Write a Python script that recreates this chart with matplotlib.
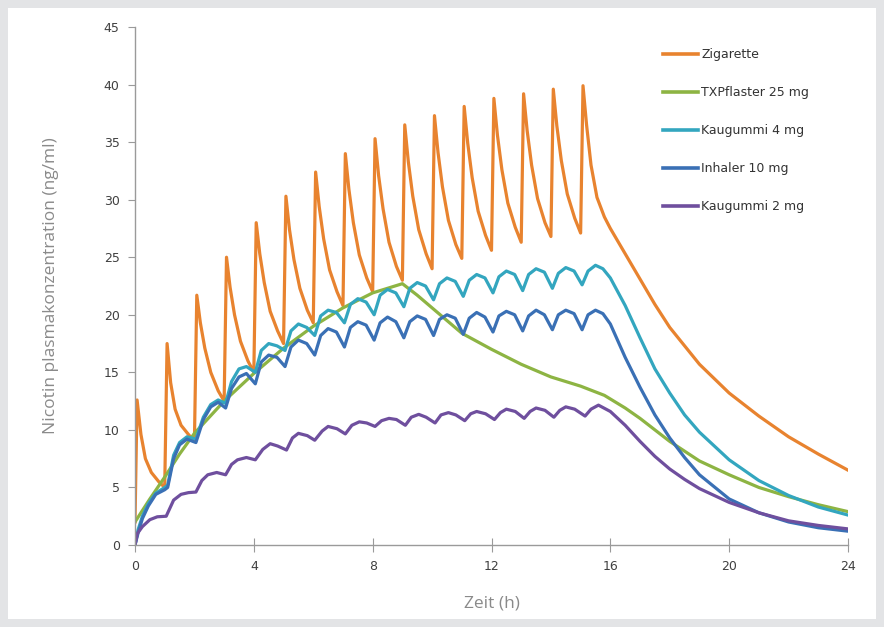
import numpy as np
import matplotlib.pyplot as plt
from matplotlib.patches import Rectangle

# Nikotin-Plasmaspiegel ueber 24 h

# Zigarette: pro Stunde Tal, Spitze und Abfall
zig_t = [0.0, 0.07, 0.2, 0.35, 0.55, 0.8,
         1.0, 1.08, 1.2, 1.35, 1.55, 1.8,
         2.0, 2.08, 2.2, 2.35, 2.55, 2.8,
         3.0, 3.08, 3.2, 3.35, 3.55, 3.8,
         4.0, 4.08, 4.2, 4.35, 4.55, 4.8,
         5.0, 5.08, 5.2, 5.35, 5.55, 5.8,
         6.0, 6.08, 6.2, 6.35, 6.55, 6.8,
         7.0, 7.08, 7.2, 7.35, 7.55, 7.8,
         8.0, 8.08, 8.2, 8.35, 8.55, 8.8,
         9.0, 9.08, 9.2, 9.35, 9.55, 9.8,
         10.0, 10.08, 10.2, 10.35, 10.55, 10.8,
         11.0, 11.08, 11.2, 11.35, 11.55, 11.8,
         12.0, 12.08, 12.2, 12.35, 12.55, 12.8,
         13.0, 13.08, 13.2, 13.35, 13.55, 13.8,
         14.0, 14.08, 14.2, 14.35, 14.55, 14.8,
         15.0, 15.08, 15.2, 15.35, 15.55, 15.8,
         16.0, 16.5, 17.0, 17.5, 18.0, 19.0, 20.0, 21.0, 22.0, 23.0, 24.0]
zig_v = [2.0, 12.6, 9.6, 7.5, 6.3, 5.5,
         5.0, 17.5, 14.1, 11.8, 10.4, 9.6,
         9.0, 21.7, 19.3, 17.1, 15.0, 13.4,
         12.5, 25.0, 22.4, 20.0, 17.7, 16.0,
         15.0, 28.0, 25.3, 22.8, 20.3, 18.6,
         17.5, 30.3, 27.4, 24.8, 22.3, 20.4,
         19.3, 32.4, 29.4, 26.6, 23.9, 22.0,
         20.8, 34.0, 30.9, 28.0, 25.2, 23.2,
         22.0, 35.3, 32.1, 29.2, 26.3, 24.2,
         23.0, 36.5, 33.3, 30.3, 27.4, 25.3,
         24.0, 37.3, 34.1, 31.1, 28.2, 26.1,
         24.9, 38.1, 34.9, 31.9, 29.0, 26.9,
         25.6, 38.8, 35.6, 32.6, 29.7, 27.6,
         26.3, 39.2, 36.0, 33.0, 30.1, 28.0,
         26.8, 39.6, 36.4, 33.4, 30.5, 28.4,
         27.1, 39.9, 36.5, 33.0, 30.2, 28.5,
         27.5, 25.3, 23.1, 20.9, 18.9, 15.7, 13.2, 11.2, 9.4, 7.9, 6.5]

# TX Pflaster 25 mg
tx_t = [0, 0.5, 1, 1.5, 2, 3, 4, 5, 6, 7, 8, 9, 9.5, 10, 11, 12, 13, 14, 15,
        15.8, 16.5, 17, 18, 19, 20, 21, 22, 23, 24]
tx_v = [2.0, 4.0, 5.9, 7.9, 9.7, 12.5, 14.9, 17.1, 19.0, 20.6, 21.9, 22.7, 21.7,
        20.6, 18.4, 17.0, 15.7, 14.6, 13.8, 13.0, 11.9, 11.0, 9.0, 7.3, 6.1,
        5.0, 4.2, 3.5, 2.9]

# Kaugummi 4 mg
kg4_t = [0, 0.1, 0.25, 0.45, 0.7, 1.0, 1.1, 1.3, 1.5, 1.75, 2.05, 2.3, 2.55, 2.8,
         3.05, 3.25, 3.5, 3.75,
         4.05, 4.25, 4.5, 4.78, 5.05, 5.25, 5.5, 5.78, 6.05, 6.25, 6.5, 6.78,
         7.05, 7.25, 7.5, 7.78, 8.05, 8.25, 8.5, 8.78, 9.05, 9.25, 9.5, 9.78,
         10.05, 10.25, 10.5, 10.78, 11.05, 11.25, 11.5, 11.78, 12.05, 12.25, 12.5, 12.78,
         13.05, 13.25, 13.5, 13.78, 14.05, 14.25, 14.5, 14.78, 15.05, 15.25, 15.5, 15.75,
         16.0, 16.5, 17.0, 17.5, 18.0, 18.5, 19.0, 20.0, 21.0, 22.0, 23.0, 24.0]
kg4_v = [0, 1.3, 2.5, 3.6, 4.5, 5.0, 5.2, 7.8, 8.9, 9.4, 9.2, 11.1, 12.2, 12.6,
         12.3, 14.2, 15.3, 15.5,
         15.0, 16.9, 17.5, 17.3, 16.9, 18.6, 19.2, 18.9, 18.2, 19.9, 20.4, 20.2,
         19.3, 20.9, 21.4, 21.1, 20.0, 21.7, 22.2, 21.9, 20.7, 22.3, 22.8, 22.5,
         21.3, 22.7, 23.2, 22.9, 21.6, 23.0, 23.5, 23.2, 21.9, 23.3, 23.8, 23.5,
         22.1, 23.5, 24.0, 23.7, 22.3, 23.6, 24.1, 23.8, 22.6, 23.8, 24.3, 24.0,
         23.2, 20.8, 18.0, 15.3, 13.2, 11.3, 9.8, 7.4, 5.6, 4.3, 3.3, 2.6]

# Inhaler 10 mg
inh_t = [0, 0.1, 0.25, 0.45, 0.7, 1.0, 1.1, 1.3, 1.5, 1.75, 2.05, 2.3, 2.55, 2.8,
         3.05, 3.25, 3.5, 3.75,
         4.05, 4.25, 4.5, 4.78, 5.05, 5.25, 5.5, 5.78, 6.05, 6.25, 6.5, 6.78,
         7.05, 7.25, 7.5, 7.78, 8.05, 8.25, 8.5, 8.78, 9.05, 9.25, 9.5, 9.78,
         10.05, 10.25, 10.5, 10.78, 11.05, 11.25, 11.5, 11.78, 12.05, 12.25, 12.5, 12.78,
         13.05, 13.25, 13.5, 13.78, 14.05, 14.25, 14.5, 14.78, 15.05, 15.25, 15.5, 15.75,
         16.0, 16.5, 17.0, 17.5, 18.0, 18.5, 19.0, 20.0, 21.0, 22.0, 23.0, 24.0]
inh_v = [0, 1.0, 2.3, 3.4, 4.4, 4.8, 5.0, 7.5, 8.7, 9.2, 8.9, 10.9, 12.0, 12.4,
         11.9, 13.6, 14.6, 14.9,
         14.0, 15.9, 16.5, 16.3, 15.5, 17.2, 17.8, 17.5, 16.5, 18.2, 18.8, 18.5,
         17.2, 18.9, 19.4, 19.1, 17.8, 19.3, 19.8, 19.4, 18.0, 19.4, 19.9, 19.6,
         18.2, 19.6, 20.0, 19.7, 18.3, 19.7, 20.2, 19.8, 18.5, 19.9, 20.3, 20.0,
         18.6, 19.9, 20.4, 20.0, 18.7, 20.0, 20.4, 20.1, 18.7, 20.0, 20.4, 20.1,
         19.2, 16.3, 13.7, 11.3, 9.3, 7.6, 6.1, 4.0, 2.8, 2.0, 1.5, 1.2]

# Kaugummi 2 mg
kg2_t = [0, 0.08, 0.25, 0.5, 0.75, 1.05, 1.3, 1.55, 1.8, 2.05, 2.25, 2.45, 2.75,
         3.05, 3.25, 3.45, 3.75, 4.05,
         4.3, 4.55, 4.8, 5.1, 5.3, 5.5, 5.8, 6.05, 6.3, 6.5, 6.8, 7.08,
         7.3, 7.55, 7.8, 8.08, 8.3, 8.55, 8.8, 9.1, 9.3, 9.55, 9.8, 10.1,
         10.3, 10.55, 10.8, 11.1, 11.3, 11.5, 11.8, 12.1, 12.3, 12.5, 12.8, 13.1,
         13.3, 13.5, 13.8, 14.1, 14.3, 14.5, 14.8, 15.15, 15.35, 15.6,
         16.0, 16.5, 17.0, 17.5, 18.0, 18.5, 19.0, 20.0, 21.0, 22.0, 23.0, 24.0]
kg2_v = [0, 1.0, 1.6, 2.2, 2.45, 2.5, 3.9, 4.4, 4.55, 4.6, 5.6, 6.1, 6.3,
         6.1, 7.0, 7.4, 7.6, 7.4,
         8.3, 8.8, 8.6, 8.25, 9.3, 9.7, 9.5, 9.1, 9.9, 10.3, 10.1, 9.65,
         10.4, 10.7, 10.6, 10.3, 10.8, 11.0, 10.9, 10.4, 11.1, 11.35, 11.1, 10.6,
         11.3, 11.5, 11.3, 10.8, 11.4, 11.6, 11.4, 10.9, 11.5, 11.8, 11.6, 11.0,
         11.6, 11.9, 11.7, 11.1, 11.7, 12.0, 11.8, 11.2, 11.8, 12.15,
         11.6, 10.4, 9.0, 7.7, 6.6, 5.7, 4.9, 3.7, 2.8, 2.1, 1.7, 1.4]

series = [
    ('Zigarette', zig_t, zig_v, '#E8832F'),
    ('TXPflaster 25 mg', tx_t, tx_v, '#8DB443'),
    ('Kaugummi 4 mg', kg4_t, kg4_v, '#33A6BF'),
    ('Inhaler 10 mg', inh_t, inh_v, '#3A70B5'),
    ('Kaugummi 2 mg', kg2_t, kg2_v, '#6F4F9E'),
]

fig = plt.figure(figsize=(8.84, 6.27), dpi=100)
fig.patch.set_facecolor('#E3E4E6')
# weisses Feld innerhalb des grauen Rahmens (hinter den Achsen)
fig.add_artist(Rectangle((8 / 884, 8 / 627), 868 / 884, 611 / 627,
                         transform=fig.transFigure, facecolor='white',
                         edgecolor='none', zorder=-5))

ax = fig.add_axes([135 / 884, 82 / 627, 713 / 884, 518 / 627])
ax.set_facecolor('none')

for name, t, v, col in series:
    ax.plot(t, v, color=col, lw=2.3, label=name, solid_joinstyle='round')

ax.set_xlim(0, 24)
ax.set_ylim(0, 45)
ax.set_xticks(np.arange(0, 25, 4))
ax.set_yticks(np.arange(0, 46, 5))

for s in ['top', 'right']:
    ax.spines[s].set_visible(False)
for s in ['left', 'bottom']:
    ax.spines[s].set_color('#9A9A9A')
    ax.spines[s].set_linewidth(1.0)

ax.tick_params(axis='y', direction='out', length=5, color='#9A9A9A',
               labelsize=9, labelcolor='#404040', pad=6)
ax.tick_params(axis='x', direction='inout', length=10, color='#9A9A9A',
               labelsize=9, labelcolor='#404040', pad=6)

ax.set_ylabel('Nicotin plasmakonzentration (ng/ml)', fontsize=12.5,
              color='#8A8A8A', family='Open Sans', labelpad=32)
ax.set_xlabel('Zeit (h)', fontsize=12.5, color='#8A8A8A', family='Open Sans',
              labelpad=16)

leg = ax.legend(loc='upper left', bbox_to_anchor=(658 / 884, 584 / 627),
                bbox_transform=fig.transFigure, frameon=False, fontsize=9,
                handlelength=2.8, handletextpad=0.25, labelspacing=2.0,
                borderaxespad=0)
for txt in leg.get_texts():
    txt.set_color('#333333')
for line in leg.get_lines():
    line.set_linewidth(2.6)

fig.savefig('out.png', dpi=100, facecolor=fig.get_facecolor())
